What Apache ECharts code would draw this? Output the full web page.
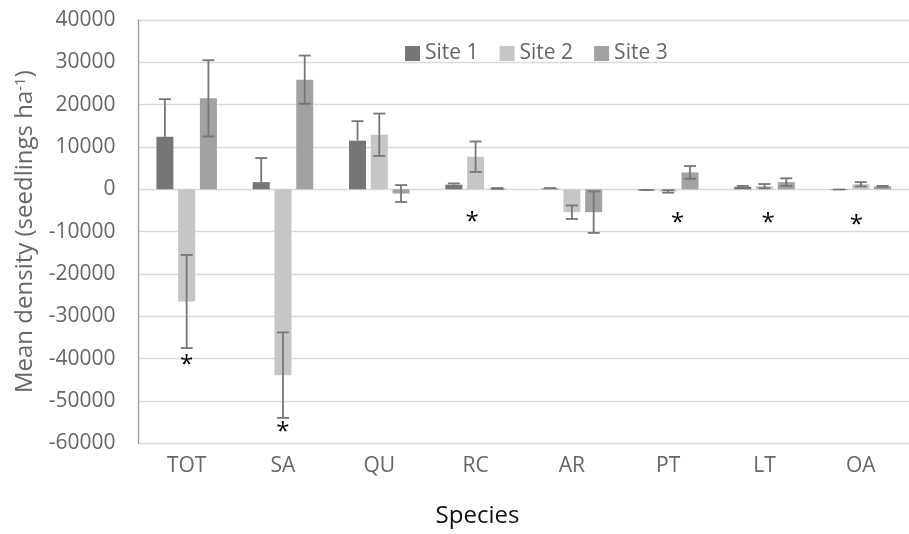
<!DOCTYPE html>
<html>
<head>
<meta charset="utf-8">
<script src="https://cdn.jsdelivr.net/npm/echarts@6/dist/echarts.min.js"></script>
<style>
  html, body { margin: 0; padding: 0; background: #fff; }
  #chart { width: 909px; height: 534px; }
</style>
</head>
<body>
<div id="chart"></div>
<script>
// ---- data ----
const categories = ['TOT', 'SA', 'QU', 'RC', 'AR', 'PT', 'LT', 'OA'];
const siteNames = ['Site 1', 'Site 2', 'Site 3'];
const site1 = [12400, 1700, 11500, 1100, 200, -300, 600, -150];
const site1ErrPlus = [8900, 5700, 4600, 300, 100, 150, 200, 100];
const site1ErrMinus = [0, 0, 0, 0, 0, 0, 0, 0];
const site2 = [-26500, -43900, 12900, 7700, -5400, -500, 750, 1200];
const site2Err = [11000, 10100, 5000, 3600, 1600, 300, 500, 500];
const site3 = [21500, 25900, -1000, 200, -5400, 4000, 1700, 700];
const site3Err = [9000, 5700, 2000, 100, 4900, 1500, 900, 100];
const starCategories = ['TOT', 'SA', 'RC', 'PT', 'LT', 'OA'];
const starValues = [-40300, -56100, -6600, -6800, -6800, -7200];

// ---- layout / style ----
const BAR_W = 17;
const BAR_GAP = 0.28;
const SLOT = BAR_W * (1 + BAR_GAP);
const starDx = [0, 0, -3.5, 9.5, 3.5, -4.5];
const FONT = '"Open Sans", "Noto Sans", sans-serif';
const colors = ['#767676', '#c6c6c6', '#a2a2a2'];
const TXT = '#666666';

const chart = echarts.init(document.getElementById('chart'), null, { renderer: 'canvas' });

function errSeries(values, plus, minus, idx) {
  return {
    type: 'custom',
    name: 'err' + idx,
    silent: true,
    z: 5,
    encode: { x: 0, y: [1, 2] },
    data: values.map((v, i) => [i, v - minus[i], v + plus[i], minus[i] > 0 ? 1 : 0]),
    renderItem: function (params, api) {
      const cx = api.coord([api.value(0), 0])[0] + (idx - 1) * SLOT;
      const lo = api.coord([api.value(0), api.value(1)])[1];
      const hi = api.coord([api.value(0), api.value(2)])[1];
      const st = { stroke: '#767676', lineWidth: 1.8 };
      const cap = 6;
      const children = [
        { type: 'line', shape: { x1: cx, y1: lo, x2: cx, y2: hi }, style: st },
        { type: 'line', shape: { x1: cx - cap, y1: hi, x2: cx + cap, y2: hi }, style: st }
      ];
      if (api.value(3)) {
        children.push({ type: 'line', shape: { x1: cx - cap, y1: lo, x2: cx + cap, y2: lo }, style: st });
      }
      return { type: 'group', children: children };
    }
  };
}

const siteData = [site1, site2, site3];
const errPlus = [site1ErrPlus, site2Err, site3Err];
const errMinus = [site1ErrMinus, site2Err, site3Err];

const barSeries = siteNames.map((n, k) => ({
  type: 'bar',
  name: n,
  data: siteData[k],
  barWidth: BAR_W,
  barGap: (BAR_GAP * 100) + '%',
  itemStyle: { color: colors[k] },
  emphasis: { disabled: true }
}));

const starSeries = {
  type: 'custom',
  name: 'stars',
  silent: true,
  z: 6,
  data: starCategories.map((c, i) => [categories.indexOf(c), starValues[i], i]),
  renderItem: function (params, api) {
    const p = api.coord([api.value(0), api.value(1)]);
    return {
      type: 'text',
      x: p[0] + starDx[api.value(2)],
      y: p[1] + 5,
      style: {
        text: '*',
        fill: '#000',
        font: '24px ' + FONT,
        textAlign: 'center',
        textVerticalAlign: 'middle'
      }
    };
  }
};

chart.setOption({
  animation: false,
  textStyle: { fontFamily: FONT },
  grid: { left: 138.5, top: 20, width: 780, bottom: 90.7, containLabel: false },
  legend: {
    data: siteNames,
    left: 400,
    top: 38,
    icon: 'rect',
    itemWidth: 15,
    itemHeight: 15,
    itemGap: 21,
    textStyle: { fontSize: 21, color: TXT, fontFamily: FONT }
  },
  xAxis: {
    type: 'category',
    data: categories,
    axisLine: { show: false, onZero: false },
    axisTick: { show: false },
    axisLabel: { fontSize: 21, color: TXT, margin: 12, fontFamily: FONT },
    splitLine: { show: false }
  },
  yAxis: {
    type: 'value',
    min: -60000,
    max: 40000,
    interval: 10000,
    name: 'Mean density (seedlings ha{sup|-1})',
    nameLocation: 'middle',
    nameGap: 101,
    nameTextStyle: {
      fontSize: 24,
      color: TXT,
      fontFamily: FONT,
      rich: {
        sup: { fontSize: 15, color: TXT, fontFamily: FONT, verticalAlign: 'top', padding: [0, 0, 9, 0] }
      }
    },
    axisLine: { show: true, lineStyle: { color: '#999999', width: 1.3 } },
    axisTick: { show: false },
    axisLabel: { fontSize: 21, color: TXT, margin: 23, fontFamily: FONT, formatter: v => String(v) },
    splitLine: { show: true, lineStyle: { color: '#d9d9d9', width: 1.3 } }
  },
  graphic: [{
    type: 'text',
    x: 477.5,
    y: 516,
    style: {
      text: 'Species',
      fill: '#111111',
      font: '24px ' + FONT,
      textAlign: 'center',
      textVerticalAlign: 'middle'
    }
  }],
  series: barSeries.concat(siteData.map((d, k) => errSeries(d, errPlus[k], errMinus[k], k)), [starSeries])
});
</script>
</body>
</html>
